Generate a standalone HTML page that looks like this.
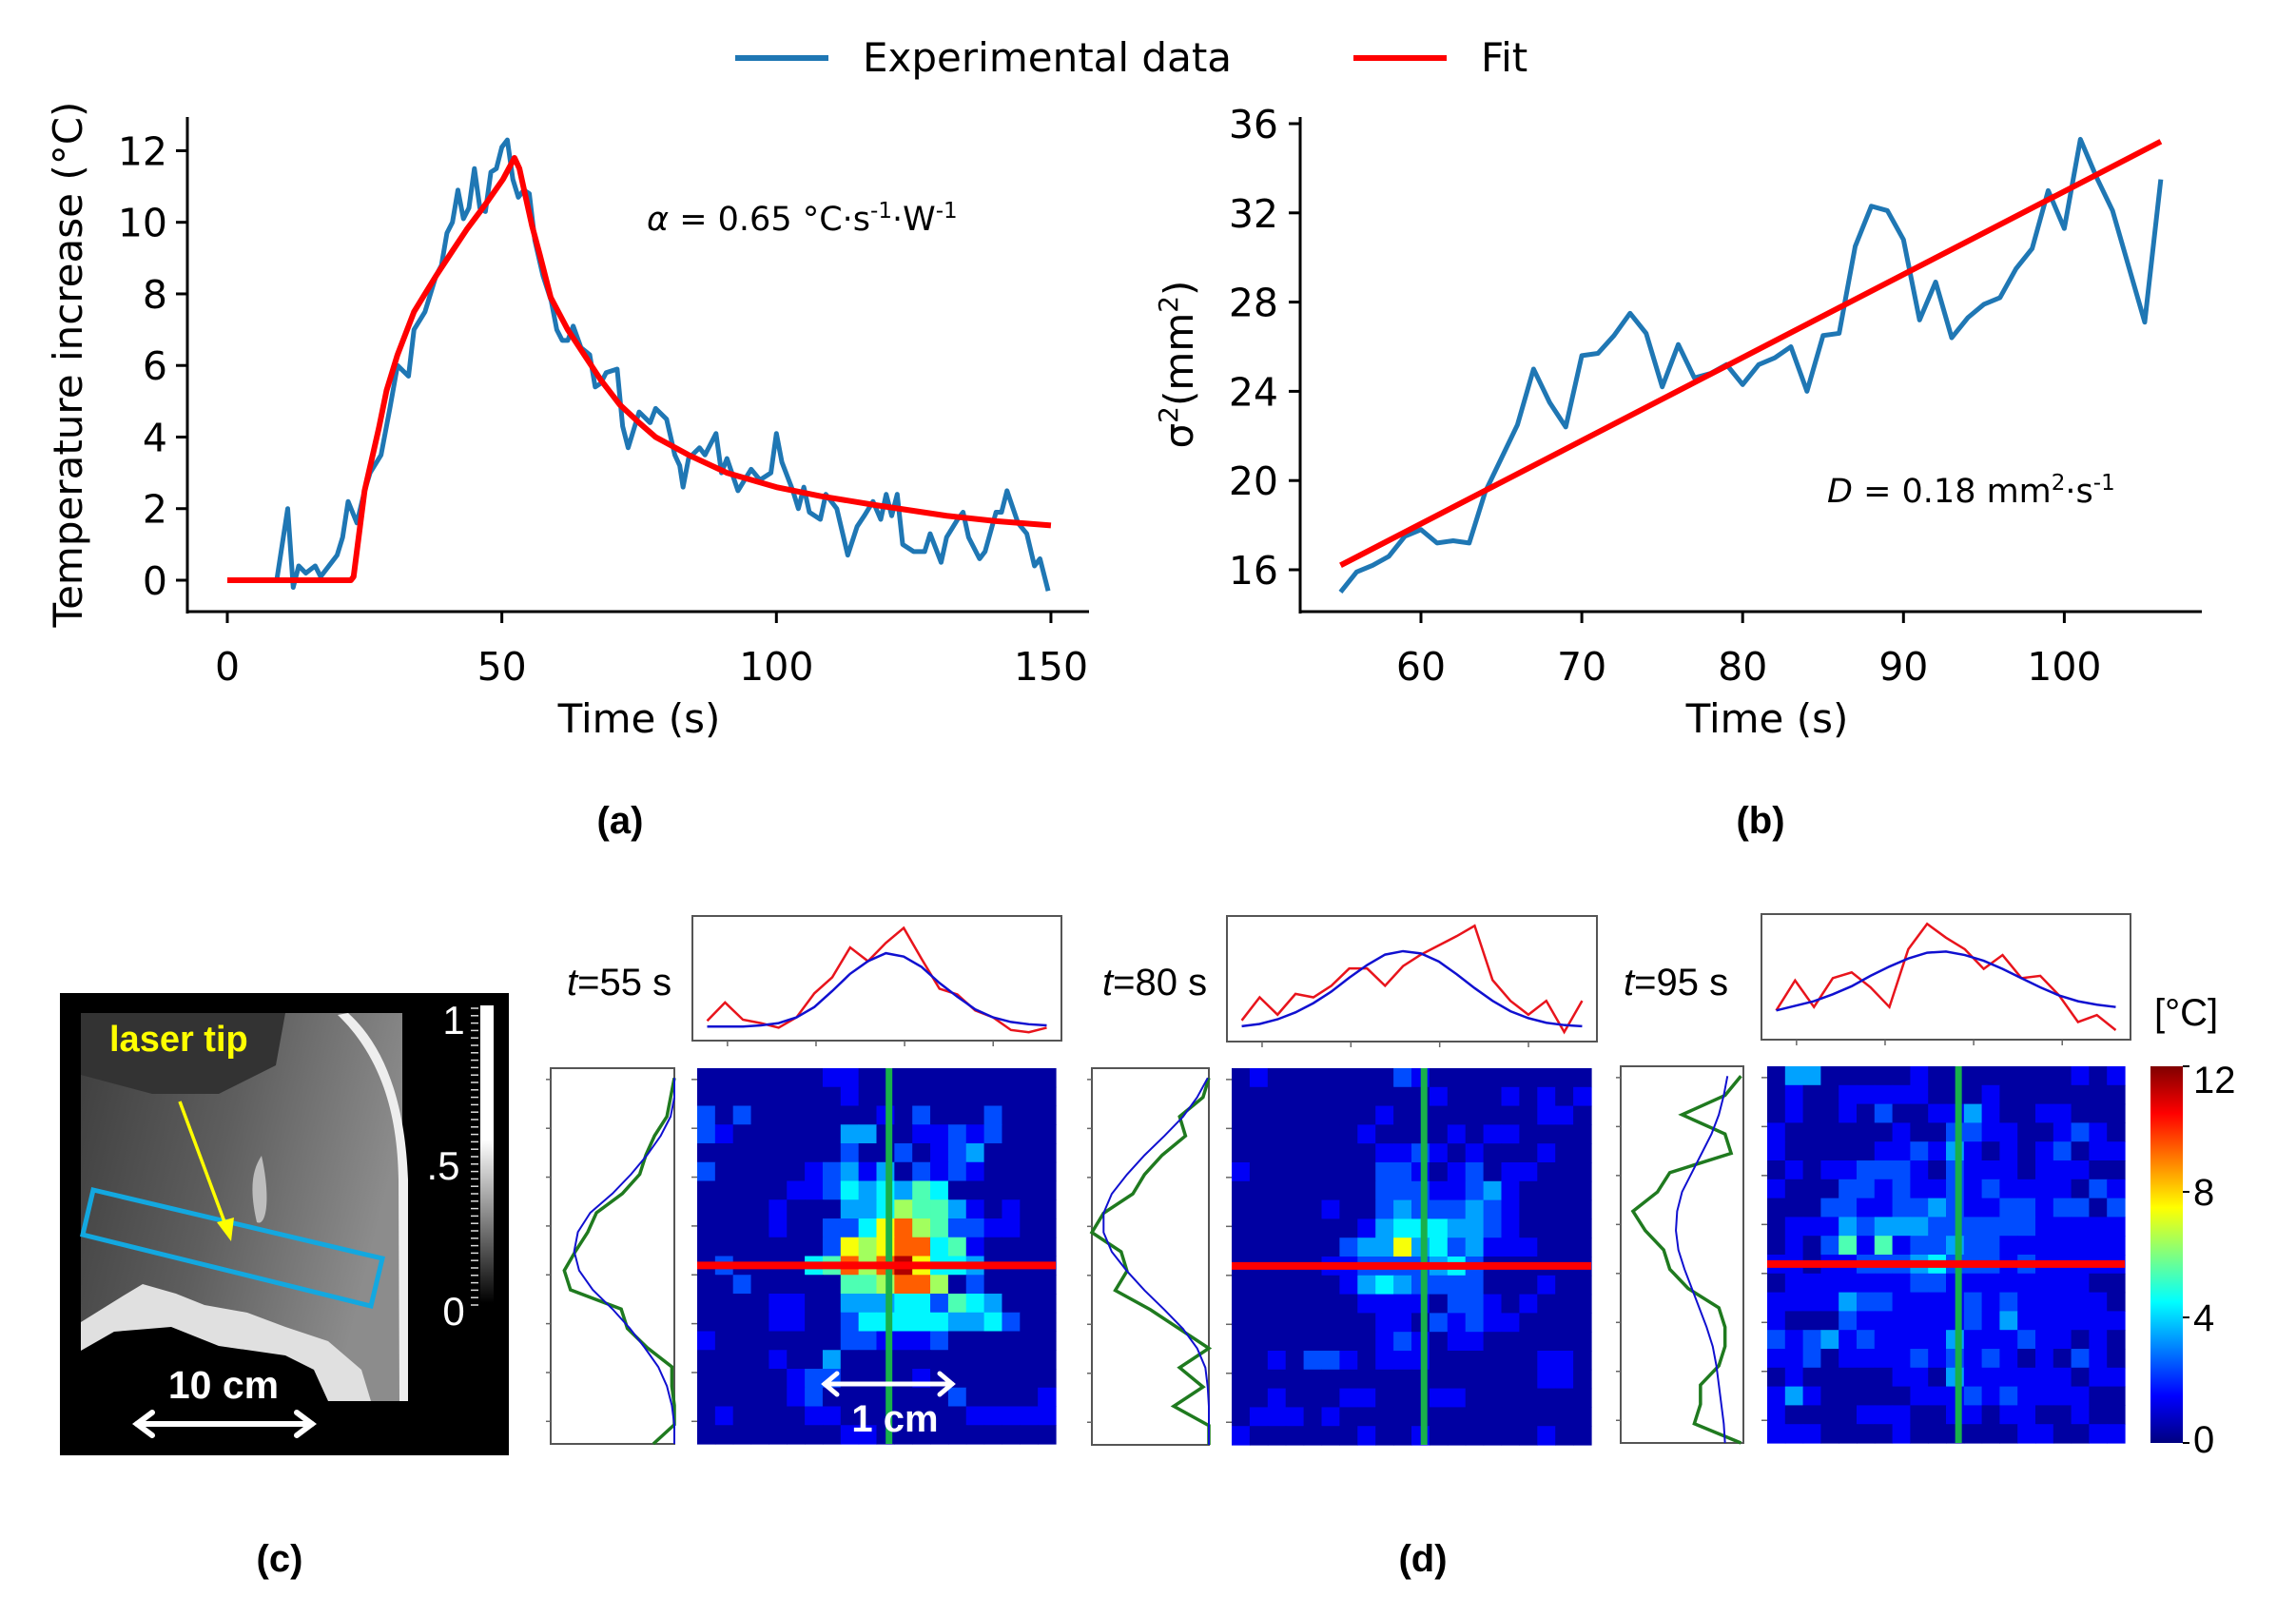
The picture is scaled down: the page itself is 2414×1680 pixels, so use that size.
<!DOCTYPE html>
<html><head><meta charset="utf-8"><style>
html,body{margin:0;padding:0;background:#fff;}
svg{display:block;}
.mpl{font-family:"DejaVu Sans","Liberation Sans",sans-serif;}
.ar{font-family:"Liberation Sans",Arial,sans-serif;}
</style></head><body>
<svg id="fig" width="2414" height="1680" viewBox="0 0 2414 1680" xmlns="http://www.w3.org/2000/svg">
<rect x="0" y="0" width="2414" height="1680" fill="#fff"/>
<g class="mpl" font-size="42">
 <line x1="773" y1="61" x2="871" y2="61" stroke="#1f77b4" stroke-width="6"/>
 <text x="907" y="75">Experimental data</text>
 <line x1="1423" y1="61" x2="1521" y2="61" stroke="#ff0000" stroke-width="6"/>
 <text x="1557" y="75">Fit</text>
</g>
<g id="pa" class="mpl">
 <line x1="197" y1="123" x2="197" y2="645" stroke="#000" stroke-width="3"/>
 <line x1="196" y1="643" x2="1145" y2="643" stroke="#000" stroke-width="3"/>
 <text x="672" y="770" font-size="42" text-anchor="middle">Time (s)</text>
 <text transform="translate(86,383) rotate(-90)" font-size="42" text-anchor="middle">Temperature increase (°C)</text>
 <text x="680" y="242" font-size="35"><tspan font-style="italic">α</tspan> = 0.65 °C·s<tspan font-size="23" dy="-13">-1</tspan><tspan dy="13">·W</tspan><tspan font-size="23" dy="-13">-1</tspan></text>
</g>
<g id="pb" class="mpl">
 <line x1="1367" y1="123" x2="1367" y2="645" stroke="#000" stroke-width="3"/>
 <line x1="1366" y1="643" x2="2315" y2="643" stroke="#000" stroke-width="3"/>
 <text x="1858" y="770" font-size="42" text-anchor="middle">Time (s)</text>
 <text transform="translate(1254,383) rotate(-90)" font-size="42" text-anchor="middle">σ<tspan font-size="28" dy="-16">2</tspan><tspan dy="16">(mm</tspan><tspan font-size="28" dy="-16">2</tspan><tspan dy="16">)</tspan></text>
 <text x="1921" y="528" font-size="35"><tspan font-style="italic">D</tspan> = 0.18 mm<tspan font-size="23" dy="-13">2</tspan><tspan dy="13">·s</tspan><tspan font-size="23" dy="-13">-1</tspan></text>
</g>
<text x="652" y="876" class="ar" font-size="40" font-weight="bold" text-anchor="middle">(a)</text>
<text x="1851" y="876" class="ar" font-size="40" font-weight="bold" text-anchor="middle">(b)</text>
<g class="ar">
 <defs>
  <linearGradient id="mriG" x1="0" y1="0" x2="1" y2="0.3">
   <stop offset="0" stop-color="#3e3e3e"/><stop offset="0.5" stop-color="#5e5e5e"/><stop offset="1" stop-color="#8c8c8c"/>
  </linearGradient>
  <linearGradient id="grayBar" x1="0" y1="0" x2="0" y2="1">
   <stop offset="0" stop-color="#fff"/><stop offset="0.45" stop-color="#fff"/><stop offset="1" stop-color="#000"/>
  </linearGradient>
 </defs>
 <rect x="63" y="1044" width="472" height="486" fill="#000"/>
 <rect x="85" y="1065" width="338" height="408" fill="url(#mriG)"/>
 <path d="M85,1065 L300,1065 L290,1120 L230,1150 L160,1150 L85,1130 Z" fill="#333"/>
 <path d="M355,1067 C400,1110 418,1170 419,1240 L420,1473 L430,1473 L429,1240 C426,1160 405,1100 366,1065 Z" fill="#eee"/>
 <path d="M429,1065 L440,1065 L440,1473 L429,1473 Z" fill="#000"/>
 <path d="M275,1215 C285,1260 280,1290 270,1285 C262,1250 265,1230 275,1215 Z" fill="#bdbdbd"/>
 <path d="M85,1390 L130,1362 L150,1350 L185,1360 L215,1372 L260,1380 L300,1395 L345,1410 L380,1440 L390,1473 L85,1473 Z" fill="#e0e0e0"/>
 <path d="M85,1420 L120,1400 L180,1395 L230,1415 L300,1425 L330,1440 L345,1473 L85,1473 Z" fill="#000"/>
 <rect x="505" y="1057" width="14" height="313" fill="url(#grayBar)"/>
 <g id="mriTicks"></g>
 <text x="477" y="1087" font-size="42" fill="#fff" text-anchor="middle">1</text>
 <text x="466" y="1240" font-size="42" fill="#fff" text-anchor="middle">.5</text>
 <text x="477" y="1393" font-size="42" fill="#fff" text-anchor="middle">0</text>
 <polygon points="98,1251 402,1323 390,1373 87,1298" fill="none" stroke="#13a8e0" stroke-width="5"/>
 <line x1="189" y1="1158" x2="238" y2="1290" stroke="#ffff00" stroke-width="3.5"/>
 <polygon points="243,1305 228,1285 246,1280" fill="#ffff00"/>
 <text x="115" y="1105" font-size="38" font-weight="bold" fill="#ffff00">laser tip</text>
 <text x="235" y="1470" font-size="41" font-weight="bold" fill="#fff" text-anchor="middle">10 cm</text>
 <g stroke="#fff" stroke-width="6" fill="none" stroke-linecap="round">
  <line x1="144" y1="1497" x2="328" y2="1497"/>
  <polyline points="160,1485 144,1497 160,1509"/>
  <polyline points="312,1485 328,1497 312,1509"/>
 </g>
</g>
<text x="294" y="1652" class="ar" font-size="40" font-weight="bold" text-anchor="middle">(c)</text>
<text x="1496" y="1652" class="ar" font-size="40" font-weight="bold" text-anchor="middle">(d)</text>
<g id="pd" class="ar"></g>
<g class="ar">
 <defs>
  <linearGradient id="jetG" x1="0" y1="1" x2="0" y2="0">
   <stop offset="0" stop-color="#000080"/><stop offset="0.125" stop-color="#0000ff"/><stop offset="0.375" stop-color="#00ffff"/><stop offset="0.625" stop-color="#ffff00"/><stop offset="0.875" stop-color="#ff0000"/><stop offset="1" stop-color="#800000"/>
  </linearGradient>
 </defs>
 <rect x="2261" y="1121" width="34" height="396" fill="url(#jetG)"/>
 <text x="2265" y="1078" font-size="40">[°C]</text>
 <g id="cbTicks"></g>
</g>
</svg>
<script>
const aTime = [9,11,12,13,14.3,16,17,19,20,21,22,23.6,25,26,28,29.6,31,33,34,36,38,39,40,41,42,43,44,45,46,47,48,49,50,51,52,53,54,55,56,57.5,59,60,61,62,63,64.4,66,67,68,69,71,72,73,74,75,77,78,80,81.5,82.4,83,84,86,87,89,90,91,93,95.4,97,99,100,101,103,104,105,106,108,109,111,113,114.7,116,117.6,119,120,121,122,123,125,127,128,130,131,133,134,135,137,138,140,141,142,144,145.6,147,148,149.5];
const aTemp = [0,2.0,-0.2,0.4,0.2,0.4,0.1,0.5,0.7,1.2,2.2,1.6,2.5,3.0,3.5,4.8,6.0,5.7,7.0,7.5,8.5,8.8,9.7,10.0,10.9,10.1,10.4,11.5,10.4,10.3,11.4,11.5,12.1,12.3,11.2,10.7,10.9,10.8,9.5,8.5,7.8,7.0,6.7,6.7,7.1,6.5,6.3,5.4,5.5,5.8,5.9,4.3,3.7,4.2,4.7,4.4,4.8,4.5,3.5,3.2,2.6,3.4,3.7,3.5,4.1,3.0,3.4,2.5,3.1,2.8,3.0,4.1,3.3,2.5,2.0,2.6,1.9,1.7,2.4,2.0,0.7,1.5,1.8,2.2,1.7,2.4,1.8,2.4,1.0,0.8,0.8,1.3,0.5,1.2,1.7,1.9,1.2,0.6,0.8,1.9,1.9,2.5,1.6,1.3,0.4,0.6,-0.3];
const aFitTime = [0,22.5,23,25,27.6,29,31,34,36,38,41,43.6,47,50.2,52.3,53.2,54.2,55.5,56.9,58.9,62,65,68,71.5,75,78,84,91,100,108,118,131,140,150];
const aFitTemp = [0,0,0.1,2.5,4.25,5.3,6.3,7.5,8.0,8.5,9.2,9.8,10.5,11.2,11.8,11.5,10.8,9.9,9.1,7.9,7.0,6.3,5.6,4.9,4.4,4.0,3.5,3.0,2.6,2.35,2.1,1.8,1.65,1.53];
const aXTicks = [0,50,100,150];
const aYTicks = [0,2,4,6,8,10,12];
const bTime = [55,56,57,58,59,60,61,62,63,64,65,66,67,68,69,70,71,72,73,74,75,76,77,78,79,80,81,82,83,84,85,86,87,88,89,90,91,92,93,94,95,96,97,98,99,100,101,102,103,104,105,106];
const bSigma = [15.0,15.9,16.2,16.6,17.5,17.8,17.2,17.3,17.2,19.5,21.0,22.5,25.0,23.5,22.4,25.6,25.7,26.5,27.5,26.6,24.2,26.1,24.6,24.8,25.2,24.3,25.2,25.5,26.0,24.0,26.5,26.6,30.5,32.3,32.1,30.8,27.2,28.9,26.4,27.3,27.9,28.2,29.5,30.4,33.0,31.3,35.3,33.6,32.1,29.6,27.1,33.5];
const bFitTime = [55,106];
const bFitSigma = [16.2,35.2];
const bXTicks = [60,70,80,90,100];
const bYTicks = [16,20,24,28,32,36];
const heat55 = ["00000001100000000000","00000000100000000000","20200000001020002000","21000000330011212000","00000000200201230000","20000012313021210000","00000112434354000000","00001000334655310100","00001002247965221100","00000002767994510000","02000045969b74430000","00200000556996020000","00001100333442543000","00001100244444334200","10000000221112000000","00001003000000000000","00000122000010000000","00000120000000200001","01000011000000011111","00000000110000000000"];
const heat80 = ["01000000021000000000","00000000000100010101","00000000100000000110","00000001000010110000","00000000112101000100","10000000221012011000","00000000222112310000","00000100232223210000","00000001344433210000","00000023373423111000","00000112222342000000","00000013432222000100","00000001111022101000","00000000110212110000","00000000121011000000","00102210111000000110","00000000000000000110","00100011000110000000","01110100000000000000","10000001001000000100"];
const heat95 = ["03300000100000000101","01001111100010000000","01001020011310011000","10000001002211001210","10000011213101012011","01011222102111011100","10002212112121111021","00022112232112212202","01113233322222211111","01025151223221111111","11011222342221211111","01111111221111111100","11113221111212111110","10002111111213111111","21231211113111211010","11201111212121010210","01000001103111111011","13100000111212111100","10000111001101100100","11100001000000110011"];
const topRed55 = [.14,.30,.15,.12,.08,.17,.38,.52,.78,.66,.82,.95,.68,.42,.37,.23,.17,.06,.04,.08];
const topBlue55 = [.09,.09,.09,.10,.12,.17,.26,.40,.55,.66,.73,.70,.61,.47,.35,.24,.17,.13,.11,.10];
const sideGreen55 = [1.0,.97,.94,.84,.77,.72,.58,.37,.30,.20,.11,.16,.57,.62,.78,.98,.98,1.0,1.0,.83];
const sideBlue55 = [1.0,1.0,.97,.89,.78,.65,.50,.32,.22,.19,.23,.34,.50,.64,.76,.87,.94,.98,1.0,1.0];
const topRed80 = [.15,.35,.2,.38,.35,.45,.6,.6,.45,.62,.72,.8,.88,.97,.5,.32,.2,.32,.05,.32];
const topBlue80 = [.1,.12,.16,.22,.3,.4,.52,.63,.72,.75,.73,.66,.55,.43,.32,.23,.17,.13,.11,.1];
const sideGreen80 = [1.0,.95,.75,.8,.6,.45,.35,.1,.0,.25,.3,.2,.5,.75,1.0,.75,.95,.7,1.0,1.0];
const sideBlue80 = [.99,.9,.78,.62,.45,.3,.17,.1,.1,.17,.3,.45,.62,.78,.9,.97,.99,1.0,1.0,1.0];
const topRed95 = [.22,.48,.25,.5,.55,.42,.25,.75,.97,.85,.75,.58,.7,.5,.52,.35,.12,.18,.05];
const topBlue95 = [.22,.26,.3,.36,.43,.52,.6,.67,.72,.73,.7,.65,.58,.5,.42,.35,.3,.27,.25];
const sideGreen95 = [.98,.85,.5,.85,.9,.4,.3,.1,.2,.35,.4,.55,.8,.85,.85,.8,.65,.65,.6,.98];
const sideBlue95 = [.87,.84,.8,.74,.66,.58,.5,.46,.45,.47,.52,.58,.64,.7,.75,.78,.8,.82,.84,.85];
const timeLabels = ["55","80","95"];
const cbTicks = [0,4,8,12];

const NS = "http://www.w3.org/2000/svg";
function mk(tag, parent){ const e=document.createElementNS(NS,tag); parent.appendChild(e); return e; }
const xA = t => 239 + t*5.773;
const yA = v => 610 - v*37.63;
const xB = t => 1494 + (t-60)*16.91;
const yB = v => 599 - (v-16)*23.45;
const pa = document.getElementById('pa');
const pb = document.getElementById('pb');

aXTicks.forEach(t=>{
  const l=mk('line',pa); l.setAttribute('x1',xA(t)); l.setAttribute('x2',xA(t)); l.setAttribute('y1',643); l.setAttribute('y2',655); l.setAttribute('stroke','#000'); l.setAttribute('stroke-width',3);
  
  
  const tx=mk('text',pa); tx.setAttribute('x',xA(t)); tx.setAttribute('y',715); tx.setAttribute('font-size',41); tx.setAttribute('text-anchor','middle'); tx.textContent=t;
  
  
});
aYTicks.forEach(v=>{
  const l=mk('line',pa); l.setAttribute('x1',185); l.setAttribute('x2',197); l.setAttribute('y1',yA(v)); l.setAttribute('y2',yA(v)); l.setAttribute('stroke','#000'); l.setAttribute('stroke-width',3);
  
  
  const tx=mk('text',pa); tx.setAttribute('x',176); tx.setAttribute('y',yA(v)+15); tx.setAttribute('font-size',41); tx.setAttribute('text-anchor','end'); tx.textContent=v;
  
  
});
{
  const p=mk('polyline',pa); p.setAttribute('points',aTime.map((t,i)=>xA(t)+','+yA(aTemp[i])).join(' ')); p.setAttribute('fill','none'); p.setAttribute('stroke','#1f77b4'); p.setAttribute('stroke-width',5); p.setAttribute('stroke-linejoin','round');
  
  
  const f=mk('polyline',pa); f.setAttribute('points',aFitTime.map((t,i)=>xA(t)+','+yA(aFitTemp[i])).join(' ')); f.setAttribute('fill','none'); f.setAttribute('stroke','#ff0000'); f.setAttribute('stroke-width',6); f.setAttribute('stroke-linejoin','round');
  
  
}
bXTicks.forEach(t=>{
  const l=mk('line',pb); l.setAttribute('x1',xB(t)); l.setAttribute('x2',xB(t)); l.setAttribute('y1',643); l.setAttribute('y2',655); l.setAttribute('stroke','#000'); l.setAttribute('stroke-width',3);
  
  
  const tx=mk('text',pb); tx.setAttribute('x',xB(t)); tx.setAttribute('y',715); tx.setAttribute('font-size',41); tx.setAttribute('text-anchor','middle'); tx.textContent=t;
  
  
});
bYTicks.forEach(v=>{
  const l=mk('line',pb); l.setAttribute('x1',1355); l.setAttribute('x2',1367); l.setAttribute('y1',yB(v)); l.setAttribute('y2',yB(v)); l.setAttribute('stroke','#000'); l.setAttribute('stroke-width',3);
  
  
  const tx=mk('text',pb); tx.setAttribute('x',1344); tx.setAttribute('y',yB(v)+15); tx.setAttribute('font-size',41); tx.setAttribute('text-anchor','end'); tx.textContent=v;
  
  
});
{
  const p=mk('polyline',pb); p.setAttribute('points',bTime.map((t,i)=>xB(t)+','+yB(bSigma[i])).join(' ')); p.setAttribute('fill','none'); p.setAttribute('stroke','#1f77b4'); p.setAttribute('stroke-width',5); p.setAttribute('stroke-linejoin','round');
  
  
  const f=mk('polyline',pb); f.setAttribute('points',bFitTime.map((t,i)=>xB(t)+','+yB(bFitSigma[i])).join(' ')); f.setAttribute('fill','none'); f.setAttribute('stroke','#ff0000'); f.setAttribute('stroke-width',6);
  
  
}
const mt=document.getElementById('mriTicks');
for(let i=0;i<=40;i++){
  const l=mk('line',mt); const y=1060+i*7.8; l.setAttribute('x1',495); l.setAttribute('x2',503); l.setAttribute('y1',y); l.setAttribute('y2',y); l.setAttribute('stroke','#ddd'); l.setAttribute('stroke-width',1.5);
  
  
}
function jet(v){
  const x=Math.max(0,Math.min(1,v/12));
  const c=u=>Math.round(255*Math.max(0,Math.min(1,u)));
  return 'rgb('+c(1.5-Math.abs(4*x-3))+','+c(1.5-Math.abs(4*x-2))+','+c(1.5-Math.abs(4*x-1))+')';
}
const pd=document.getElementById('pd');
const sets=[
  {heat:heat55,tr:topRed55,tb:topBlue55,sg:sideGreen55,sb:sideBlue55,top:[728,963,388,131],side:[579,1123,130,395],hm:[733,1123,377,395],lab:[596,1046]},
  {heat:heat80,tr:topRed80,tb:topBlue80,sg:sideGreen80,sb:sideBlue80,top:[1290,963,389,132],side:[1148,1123,123,396],hm:[1295,1123,378,396],lab:[1159,1046]},
  {heat:heat95,tr:topRed95,tb:topBlue95,sg:sideGreen95,sb:sideBlue95,top:[1852,961,388,132],side:[1704,1121,129,396],hm:[1858,1121,376,396],lab:[1707,1046]}
];
sets.forEach((s,k)=>{
  const g=mk('g',pd);
  
  
  const t=mk('text',g); t.setAttribute('x',s.lab[0]); t.setAttribute('y',s.lab[1]); t.setAttribute('font-size',40);
  t.innerHTML='<tspan font-style="italic">t</tspan>='+timeLabels[k]+' s';
  
  
  const [hx,hy,hw,hh]=s.hm; const cw=hw/20, ch=hh/20;
  s.heat.forEach((row,r)=>{
    for(let c=0;c<20;c++){
      const v=parseInt(row[c],36)+0.4;
      const rc=mk('rect',g); rc.setAttribute('x',hx+c*cw); rc.setAttribute('y',hy+r*ch); rc.setAttribute('width',cw+0.6); rc.setAttribute('height',ch+0.6); rc.setAttribute('fill',jet(v));
      
      
    }
  });
  const vx = hx + hw*0.535, hyL = hy + hh*0.525;
  const gl=mk('line',g); gl.setAttribute('x1',vx); gl.setAttribute('x2',vx); gl.setAttribute('y1',hy); gl.setAttribute('y2',hy+hh); gl.setAttribute('stroke','#19b04b'); gl.setAttribute('stroke-width',7);
  
  
  const rl=mk('line',g); rl.setAttribute('x1',hx); rl.setAttribute('x2',hx+hw); rl.setAttribute('y1',hyL); rl.setAttribute('y2',hyL); rl.setAttribute('stroke','#ff0000'); rl.setAttribute('stroke-width',8);
  
  
  for(let i=0;i<8;i++){
    const tk=mk('line',g); const y=hy+hh*(0.03+i*0.13); tk.setAttribute('x1',hx-6); tk.setAttribute('x2',hx); tk.setAttribute('y1',y); tk.setAttribute('y2',y); tk.setAttribute('stroke','#666'); tk.setAttribute('stroke-width',1.5);
    
    
  }
  const [tx,ty,tw,th]=s.top;
  const tb=mk('rect',g); tb.setAttribute('x',tx); tb.setAttribute('y',ty); tb.setAttribute('width',tw); tb.setAttribute('height',th); tb.setAttribute('fill','#fff'); tb.setAttribute('stroke','#555'); tb.setAttribute('stroke-width',2);
  
  
  for(let i=0;i<4;i++){
    const tk=mk('line',g); const x=tx+tw*(0.095+i*0.24); tk.setAttribute('x1',x); tk.setAttribute('x2',x); tk.setAttribute('y1',ty+th); tk.setAttribute('y2',ty+th+6); tk.setAttribute('stroke','#666'); tk.setAttribute('stroke-width',1.5);
    
    
  }
  const tp=(arr)=>arr.map((v,i)=>(tx+tw*(0.04+0.92*i/(arr.length-1)))+','+(ty+th*(0.97-0.92*v))).join(' ');
  const pr=mk('polyline',g); pr.setAttribute('points',tp(s.tr)); pr.setAttribute('fill','none'); pr.setAttribute('stroke','#e8141c'); pr.setAttribute('stroke-width',2.5);
  
  
  const pbl=mk('polyline',g); pbl.setAttribute('points',tp(s.tb)); pbl.setAttribute('fill','none'); pbl.setAttribute('stroke','#1010d0'); pbl.setAttribute('stroke-width',2.5);
  
  
  const [sx,sy,sw,sh]=s.side;
  const sbx=mk('rect',g); sbx.setAttribute('x',sx); sbx.setAttribute('y',sy); sbx.setAttribute('width',sw); sbx.setAttribute('height',sh); sbx.setAttribute('fill','#fff'); sbx.setAttribute('stroke','#555'); sbx.setAttribute('stroke-width',2);
  
  
  for(let i=0;i<8;i++){
    const tk=mk('line',g); const y=sy+sh*(0.03+i*0.13); tk.setAttribute('x1',sx-5); tk.setAttribute('x2',sx); tk.setAttribute('y1',y); tk.setAttribute('y2',y); tk.setAttribute('stroke','#666'); tk.setAttribute('stroke-width',1.5);
    
    
  }
  const sp=(arr)=>arr.map((v,i)=>(sx+sw*v)+','+(sy+sh*(0.026+0.974*i/(arr.length-1)))).join(' ');
  const pg=mk('polyline',g); pg.setAttribute('points',sp(s.sg)); pg.setAttribute('fill','none'); pg.setAttribute('stroke','#1f7a1f'); pg.setAttribute('stroke-width',3.5);
  
  
  const pbb=mk('polyline',g); pbb.setAttribute('points',sp(s.sb)); pbb.setAttribute('fill','none'); pbb.setAttribute('stroke','#1010d0'); pbb.setAttribute('stroke-width',2);
  
  
});
{
  const g=mk('g',pd);
  
  
  g.innerHTML='<g stroke="#fff" stroke-width="5" fill="none" stroke-linecap="round"><line x1="867" y1="1455" x2="1001" y2="1455"/><polyline points="880,1444 867,1455 880,1466"/><polyline points="988,1444 1001,1455 988,1466"/></g><text x="941" y="1505" font-size="40" font-weight="bold" fill="#fff" text-anchor="middle">1 cm</text>';
}
const cb=document.getElementById('cbTicks');
cbTicks.forEach(v=>{
  const y=1517-v*33;
  const l=mk('line',cb); l.setAttribute('x1',2295); l.setAttribute('x2',2302); l.setAttribute('y1',y); l.setAttribute('y2',y); l.setAttribute('stroke','#000'); l.setAttribute('stroke-width',2);
  
  
  const t=mk('text',cb); t.setAttribute('x',2306); t.setAttribute('y',Math.min(y+14,1527)); if(v===12){t.setAttribute('y',y+28);} t.setAttribute('font-size',40); t.textContent=v;
  
  
});
</script>
</body></html>
